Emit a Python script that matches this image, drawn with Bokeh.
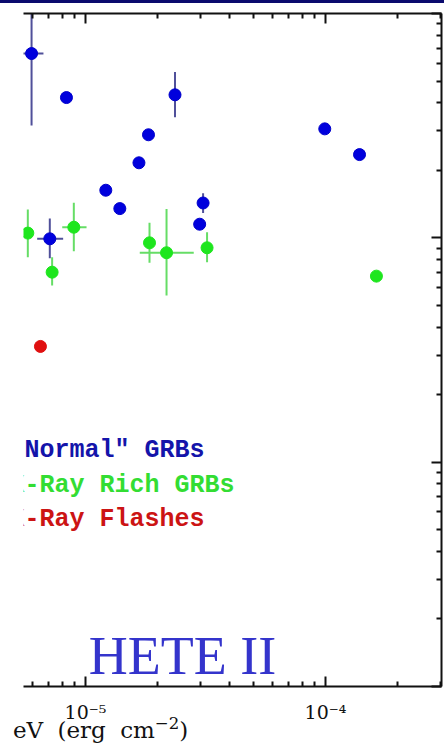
from bokeh.plotting import figure
from bokeh.models import LogAxis, FixedTicker, Range1d, Label, Div
from bokeh.layouts import column
from bokeh.embed import file_html
from bokeh.resources import INLINE
from bokeh.core.properties import value

# ---------------- data (fluence in erg cm^-2, Epeak in keV) ----------------
normal_fluence = [5.96e-6, 8.33e-6, 2.36e-5, 1.83e-5, 1.67e-5, 1.215e-5, 1.39e-5,
                  3.09e-5, 2.99e-5, 7.1e-6, 9.93e-5, 1.386e-4]
normal_epeak = [663, 422, 434, 288, 216, 163, 135, 143, 115, 99, 306, 235]
normal_ep_lo = [317, 422, 345, 288, 216, 163, 135, 129, 115, 81, 306, 235]
normal_ep_hi = [1400, 422, 548, 288, 216, 163, 135, 158, 115, 122, 306, 235]
normal_fl_lo = [5.2e-6, 8.33e-6, 2.36e-5, 1.83e-5, 1.67e-5, 1.215e-5, 1.39e-5,
                3.09e-5, 2.99e-5, 6.29e-6, 9.93e-5, 1.386e-4]
normal_fl_hi = [6.68e-6, 8.33e-6, 2.36e-5, 1.83e-5, 1.67e-5, 1.215e-5, 1.39e-5,
                3.09e-5, 2.99e-5, 8.07e-6, 9.93e-5, 1.386e-4]

xrr_fluence = [5.75e-6, 7.26e-6, 8.94e-6, 1.848e-5, 2.176e-5, 3.21e-5, 1.63e-4]
xrr_epeak = [105, 70.3, 111.5, 95, 85.8, 90.3, 67.5]
xrr_ep_lo = [82, 61.3, 87.2, 77.4, 55.3, 77.9, 67.5]
xrr_ep_hi = [133.6, 82, 143.3, 116.7, 134.6, 105.9, 67.5]
xrr_fl_lo = [5.75e-6, 7.26e-6, 8.0e-6, 1.848e-5, 1.683e-5, 3.21e-5, 1.63e-4]
xrr_fl_hi = [5.75e-6, 7.26e-6, 1.01e-5, 1.848e-5, 2.825e-5, 3.21e-5, 1.63e-4]

xrf_fluence = [6.49e-6]
xrf_epeak = [32.8]

legend_labels = ['"Normal" GRBs', 'X-Ray Rich GRBs', 'X-Ray Flashes']
x_tick_labels = {1e-5: "10\u207b\u2075", 1e-4: "10\u207b\u2074"}
x_title_html = "eV (erg cm<sup style='font-size:72%'>\u22122</sup>)"
badge = "HETE II"

# ---------------- figure ----------------
x_lo = 10 ** (-5 - 62 / 240)
x_hi = 10 ** (-5 + 356 / 240)
p = figure(width=444, frame_height=673, x_axis_type="log", y_axis_type="log",
           x_range=Range1d(x_lo, x_hi), y_range=Range1d(1, 1000),
           x_axis_location=None, y_axis_location=None,
           output_backend="svg", toolbar_location=None,
           min_border_left=23, min_border_right=3, min_border_top=10,
           min_border_bottom=0)
p.outline_line_color = None
p.grid.visible = False
p.background_fill_color = "white"
p.border_fill_color = "white"

x_major = [1e-6, 1e-5, 1e-4, 1e-3]
x_minor = [k * 10.0 ** n for n in (-6, -5, -4) for k in range(2, 10)]
y_major = [1, 10, 100, 1000]
y_minor = [k * 10.0 ** n for n in (0, 1, 2) for k in range(2, 10)]

bottom = LogAxis(ticker=FixedTicker(ticks=x_major, minor_ticks=x_minor))
top = LogAxis(ticker=FixedTicker(ticks=x_major, minor_ticks=x_minor))
right = LogAxis(ticker=FixedTicker(ticks=y_major, minor_ticks=y_minor))

for ax in (bottom, top, right):
    ax.axis_line_width = 2
    ax.axis_line_color = "#111111"
    ax.major_tick_line_width = 2
    ax.minor_tick_line_width = 2
    ax.major_tick_line_color = "#111111"
    ax.minor_tick_line_color = "#111111"
    ax.major_tick_out = 0
    ax.minor_tick_out = 0
    ax.major_tick_in = 10
    ax.minor_tick_in = 5

bottom.major_label_overrides = x_tick_labels
bottom.major_label_text_font = "DejaVu Serif"
bottom.major_label_text_font_size = "19px"
bottom.major_label_text_color = "#111111"
bottom.major_label_standoff = 14

for ax in (top, right):
    ax.major_label_text_font_size = "0px"
    ax.major_label_standoff = 0
    ax.major_label_text_color = None

p.add_layout(bottom, "below")
p.add_layout(top, "above")
p.add_layout(right, "right")

# error bars
p.segment(normal_fl_lo, normal_epeak, normal_fl_hi, normal_epeak, line_color="#50509a", line_width=2)
p.segment(normal_fluence, normal_ep_lo, normal_fluence, normal_ep_hi, line_color="#50509a", line_width=2)
p.segment(xrr_fl_lo, xrr_epeak, xrr_fl_hi, xrr_epeak, line_color="#66dd66", line_width=2)
p.segment(xrr_fluence, xrr_ep_lo, xrr_fluence, xrr_ep_hi, line_color="#66dd66", line_width=2)

# points
p.scatter(normal_fluence, normal_epeak, size=12, fill_color="#0000dd", line_color="#0000cc")
p.scatter(xrr_fluence, xrr_epeak, size=12, fill_color="#1ee61e", line_color="#1ee61e")
p.scatter(xrf_fluence, xrf_epeak, size=12, fill_color="#e01010", line_color="#e01010")

# legend text (clipped at the left edge like the cropped original)
leg_x = 10 ** (-5 + (9 - 85) / 240)
leg_ys = [10 ** (3 - (450 - 13) / 224.33), 10 ** (3 - (484.5 - 13) / 224.33),
          10 ** (3 - (519 - 13) / 224.33)]
leg_colors = ["#1414aa", "#33dd33", "#cc1414"]
p.text(x=[leg_x] * 3, y=leg_ys, text=legend_labels, text_color=leg_colors,
       text_font=value("Liberation Mono"), text_font_style="bold",
       text_font_size="25px", text_baseline="alphabetic", text_align="left")

p.add_layout(Label(x=159, y=31, x_units="screen", y_units="screen", text=badge,
                   text_font="Liberation Serif", text_font_size="54px",
                   text_color="#3434cc", text_align="center",
                   text_baseline="alphabetic"))

bar = Div(text="", width=444, height=3,
          styles={"background-color": "#0a0a6e", "margin": "0", "padding": "0"})

title_div = Div(
    text=("<span style=\"display:inline-block;margin-left:13px;"
          "font-family:'DejaVu Serif';font-size:23px;color:#111111;"
          "white-space:nowrap;word-spacing:7px;line-height:22px\">"
          + x_title_html + "</span>"),
    width=444, height=20,
    styles={"position": "relative", "top": "-12px", "overflow": "visible",
            "margin": "0", "padding": "0"})

layout = column(bar, p, title_div, spacing=0)
open("out.html", "w").write(file_html(layout, INLINE))
